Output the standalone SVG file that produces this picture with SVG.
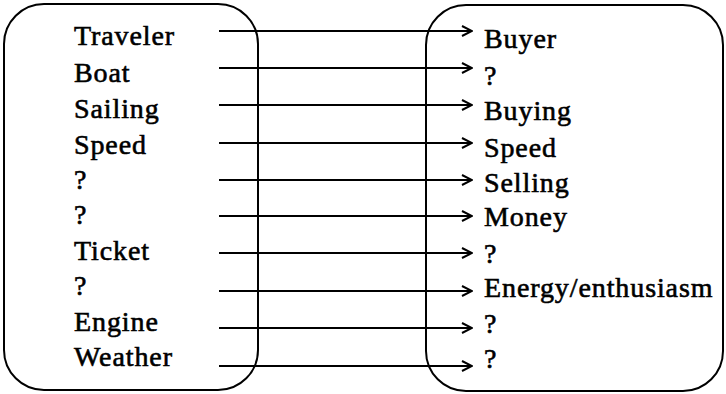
<svg xmlns="http://www.w3.org/2000/svg" width="726" height="394" viewBox="0 0 726 394">
<style>
.box{fill:none;stroke:#000;stroke-width:2}
.t{font-family:'Liberation Serif','Times New Roman',Times,serif;font-size:28px;letter-spacing:0.9px;fill:#000;stroke:#000;stroke-width:0.6}
.c line{stroke:#000;stroke-width:2;marker-end:url(#ah)}
</style>
<defs>
<marker id="ah" markerWidth="12" markerHeight="12" refX="11" refY="6" orient="auto" markerUnits="userSpaceOnUse">
<path d="M1,1 L11,6 L1,11" fill="none" stroke="#000" stroke-width="2"/>
</marker>
</defs>
<rect width="726" height="394" fill="#fff"/>
<g id="left">
<rect class="box" x="4" y="4" width="254" height="386" rx="40" ry="40"/>
<text class="t" x="74" y="45">Traveler</text>
<text class="t" x="74" y="82">Boat</text>
<text class="t" x="74" y="118">Sailing</text>
<text class="t" x="74" y="154">Speed</text>
<text class="t" x="74" y="189">?</text>
<text class="t" x="74" y="224">?</text>
<text class="t" x="74" y="260">Ticket</text>
<text class="t" x="74" y="295">?</text>
<text class="t" x="74" y="331">Engine</text>
<text class="t" x="74" y="366">Weather</text>
</g>
<g id="right">
<rect class="box" x="426" y="5" width="297" height="386" rx="40" ry="40"/>
<text class="t" x="484" y="48">Buyer</text>
<text class="t" x="484" y="85">?</text>
<text class="t" x="484" y="120">Buying</text>
<text class="t" x="484" y="157">Speed</text>
<text class="t" x="484" y="192">Selling</text>
<text class="t" x="484" y="226">Money</text>
<text class="t" x="484" y="263">?</text>
<text class="t" x="484" y="297">Energy/enthusiasm</text>
<text class="t" x="484" y="333">?</text>
<text class="t" x="484" y="368">?</text>
</g>
<g id="connectors" class="c">
<line x1="219" y1="31" x2="472" y2="31"/>
<line x1="219" y1="68" x2="472" y2="68"/>
<line x1="219" y1="105" x2="472" y2="105"/>
<line x1="219" y1="143" x2="472" y2="143"/>
<line x1="219" y1="180" x2="472" y2="180"/>
<line x1="219" y1="216" x2="472" y2="216"/>
<line x1="219" y1="253" x2="472" y2="253"/>
<line x1="219" y1="291" x2="472" y2="291"/>
<line x1="219" y1="328" x2="472" y2="328"/>
<line x1="219" y1="366" x2="472" y2="366"/>
</g>
</svg>
